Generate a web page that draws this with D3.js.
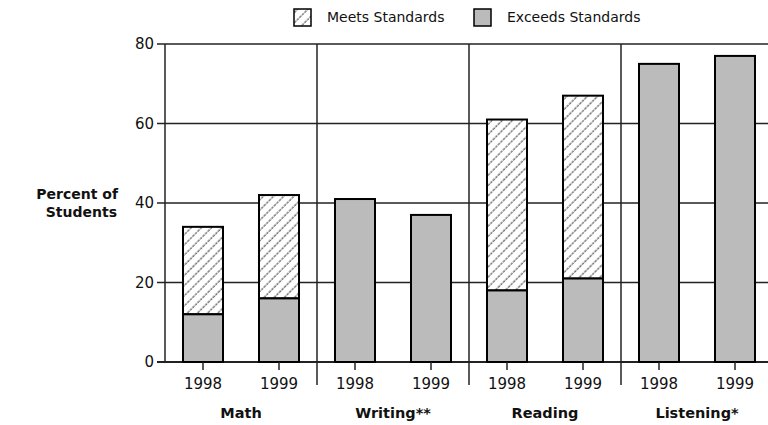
<!DOCTYPE html>
<html><head><meta charset="utf-8">
<script src="https://cdn.jsdelivr.net/npm/d3@7"></script>
<style>body{margin:0;background:#fff}svg{display:block}text{font-family:"DejaVu Sans",sans-serif;fill:#111}</style>
</head><body><svg id="c" width="768" height="425"></svg>
<script>
const subjects = ["Math", "Writing**", "Reading", "Listening*"];
const years = ["1998", "1999"];
const exceeds = [[12, 16], [41, 37], [18, 21], [75, 77]];
const total = [[34, 42], [41, 37], [61, 67], [75, 77]];
const yTicks = [0, 20, 40, 60, 80];
const legendLabels = ["Meets Standards", "Exceeds Standards"];

const svg = d3.select("#c");
const defs = svg.append("defs");
const hs = 7.2;
const pat = defs.append("pattern").attr("id", "hatch").attr("patternUnits", "userSpaceOnUse")
  .attr("width", hs).attr("height", hs).attr("patternTransform", "rotate(45)");
pat.append("rect").attr("width", hs).attr("height", hs).attr("fill", "#fff");
pat.append("line").attr("x1", 1).attr("x2", 1).attr("y1", 0).attr("y2", hs)
  .attr("stroke", "#222").attr("stroke-width", 0.9).attr("stroke-dasharray", "2.5,0.9");

const pLeft = 165, pRight = 773, pTop = 44, pBottom = 362;
const y = d3.scaleLinear().domain([0, 80]).range([pBottom, pTop]);
const xg = d3.scaleBand().domain(subjects).range([pLeft, pRight]).padding(0);
const xy = d3.scalePoint().domain(years).range([0, xg.bandwidth()]).padding(0.5);
const barW = 40;

const g = svg.append("g");
yTicks.forEach(t => {
  g.append("line").attr("x1", 157).attr("x2", 768).attr("y1", y(t)).attr("y2", y(t))
    .attr("stroke", "#222").attr("stroke-width", t === 0 ? 2 : 1.5);
  g.append("text").attr("x", 154).attr("y", y(t)).attr("dy", "0.35em").attr("text-anchor", "end")
    .attr("font-size", 15).text(t);
});
g.append("line").attr("x1", pLeft).attr("x2", pLeft).attr("y1", y(80)).attr("y2", y(0))
  .attr("stroke", "#222").attr("stroke-width", 1.5);
subjects.slice(1).forEach(s => {
  g.append("line").attr("x1", xg(s)).attr("x2", xg(s)).attr("y1", y(80)).attr("y2", 385)
    .attr("stroke", "#222").attr("stroke-width", 1.5);
});

subjects.forEach((s, i) => {
  years.forEach((yr, j) => {
    const cx = xg(s) + xy(yr);
    if (total[i][j] > exceeds[i][j]) {
      svg.append("rect").attr("x", cx - barW / 2).attr("y", y(total[i][j]))
        .attr("width", barW).attr("height", y(exceeds[i][j]) - y(total[i][j]))
        .attr("fill", "url(#hatch)").attr("stroke", "#000").attr("stroke-width", 2);
    }
    svg.append("rect").attr("x", cx - barW / 2).attr("y", y(exceeds[i][j]))
      .attr("width", barW).attr("height", y(0) - y(exceeds[i][j]))
      .attr("fill", "#bbb").attr("stroke", "#000").attr("stroke-width", 2);
    svg.append("line").attr("x1", cx).attr("x2", cx).attr("y1", y(0)).attr("y2", 370)
      .attr("stroke", "#222").attr("stroke-width", 1.5);
    svg.append("text").attr("x", cx).attr("y", 389).attr("text-anchor", "middle")
      .attr("font-size", 15).text(yr);
  });
  svg.append("text").attr("x", xg(s) + xg.bandwidth() / 2).attr("y", 418).attr("text-anchor", "middle")
    .attr("font-size", 14.5).attr("font-weight", "bold").text(s);
});

svg.append("text").attr("x", 118).attr("y", 199).attr("text-anchor", "end")
  .attr("font-size", 14).attr("font-weight", "bold").text("Percent of");
svg.append("text").attr("x", 117).attr("y", 217).attr("text-anchor", "end")
  .attr("font-size", 14).attr("font-weight", "bold").text("Students");

const leg = [{x: 294, fill: "url(#hatch)"}, {x: 474, fill: "#bbb"}];
leg.forEach((l, i) => {
  svg.append("rect").attr("x", l.x).attr("y", 9).attr("width", 17).attr("height", 17)
    .attr("fill", l.fill).attr("stroke", "#000").attr("stroke-width", 1.5);
  svg.append("text").attr("x", l.x + 33).attr("y", 22).attr("font-size", 14).text(legendLabels[i]);
});
</script></body></html>
